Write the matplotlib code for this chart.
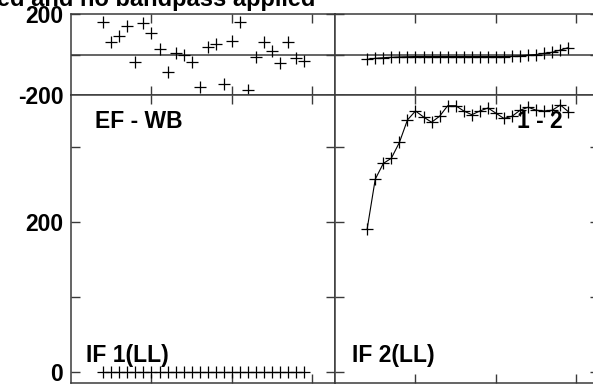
#!/usr/bin/env python3
"""
Recreate the AIPS-style closure panel plot (phase on top, amplitude below).

Output: out.png (593x385)
"""

import matplotlib

matplotlib.use("Agg")
import matplotlib.pyplot as plt


FIG_W, FIG_H = 593, 385
DPI = 100

CHANNELS = list(range(4, 30))

# top-left: phase EF - WB, IF 1 (points only)
PHASE_IF1 = [159, 60, 93, 142, -39, 154, 108, 27, -88, 9, -2, -36, -159,
             35, 50, -146, 67, 162, -175, -11, 60, 17, -40, 63, -19, -32]
# top-right: phase 1 - 2, IF 2
PHASE_IF2 = [-24, -19, -16, -14, -12, -11, -10, -10, -10, -10, -10, -10, -10,
             -10, -10, -10, -10, -10, -9, -7, -3, 0, 6, 11, 22, 34]
# bottom-left: amplitude IF 1
AMP_IF1 = [0, 0, 0, 0, 0, 0, 0, 0, 0, 0, 0, 0, 0,
           0, 0, 0, 0, 0, 0, 0, 0, 0, 0, 0, 0, 0]
# bottom-right: amplitude IF 2
AMP_IF2 = [191, 257, 278, 285, 306, 336, 348, 340, 333, 341, 355, 355, 348,
           343, 348, 352, 345, 338, 341, 349, 353, 349, 348, 349, 356, 347]

X_TICKS = [10, 20, 30]
PHASE_TICKS = [-200, 0, 200]
PHASE_LABELS = ["-200", "", "200"]
AMP_TICKS = [0, 100, 200, 300]
AMP_LABELS = ["0", "", "200", ""]

TITLE = "ed and no bandpass applied"

FONT = "Liberation Sans"
FS = 16.5
AXIS_COLOR = "#3a3a3a"


def px_axes(fig, left, top, width, height):
    return fig.add_axes([left / FIG_W, 1 - (top + height) / FIG_H,
                         width / FIG_W, height / FIG_H])


def style_axes(ax, yticks, ylabels, show_labels):
    ax.set_xlim(0, 32.8)
    ax.set_xticks(X_TICKS)
    ax.set_xticklabels([])
    ax.set_yticks(yticks)
    ax.set_yticklabels(ylabels if show_labels else [])
    ax.tick_params(direction="in", length=6.5, width=1.0, color=AXIS_COLOR,
                   top=True, right=True, pad=5.5, labelsize=FS)
    for lab in ax.get_yticklabels():
        lab.set_fontweight("bold")
        lab.set_fontfamily(FONT)
    for sp in ax.spines.values():
        sp.set_color(AXIS_COLOR)
        sp.set_linewidth(1.1)


def main():
    fig = plt.figure(figsize=(FIG_W / DPI, FIG_H / DPI), dpi=DPI)

    ax_tl = px_axes(fig, 71, 14, 264, 81)
    ax_tr = px_axes(fig, 335, 14, 264, 81)
    ax_bl = px_axes(fig, 71, 95, 264, 288)
    ax_br = px_axes(fig, 335, 95, 264, 288)

    for ax, show in [(ax_tl, True), (ax_tr, False)]:
        ax.set_ylim(-200, 200)
        ax.axhline(0, color=AXIS_COLOR, lw=1.1)
        style_axes(ax, PHASE_TICKS, PHASE_LABELS, show)

    for ax, show in [(ax_bl, True), (ax_br, False)]:
        ax.set_ylim(-14.7, 369.3)
        style_axes(ax, AMP_TICKS, AMP_LABELS, show)

    mk = dict(marker="+", markersize=8.5, markeredgewidth=0.9, color="black")
    ax_tl.plot(CHANNELS, PHASE_IF1, linestyle="none", **mk)
    ax_tr.plot(CHANNELS, PHASE_IF2, lw=0.8, **mk)
    ax_bl.plot(CHANNELS, AMP_IF1, lw=0.8, **mk)
    ax_br.plot(CHANNELS, AMP_IF2, lw=0.8, **mk)

    txt = dict(fontsize=FS, fontweight="bold", family=FONT, va="baseline")
    ax_bl.text(0.091, 0.885, "EF - WB", transform=ax_bl.transAxes, **txt)
    ax_br.text(0.689, 0.885, "1 - 2", transform=ax_br.transAxes, **txt)
    ax_bl.text(0.057, 0.073, "IF 1(LL)", transform=ax_bl.transAxes, **txt)
    ax_br.text(0.064, 0.073, "IF 2(LL)", transform=ax_br.transAxes, **txt)

    title_style = dict(txt, fontsize=17)
    fig.text(-3 / FIG_W, 1 - 6 / FIG_H, TITLE, ha="left", **title_style)

    fig.savefig("out.png", dpi=DPI)
    plt.close(fig)


if __name__ == "__main__":
    main()
